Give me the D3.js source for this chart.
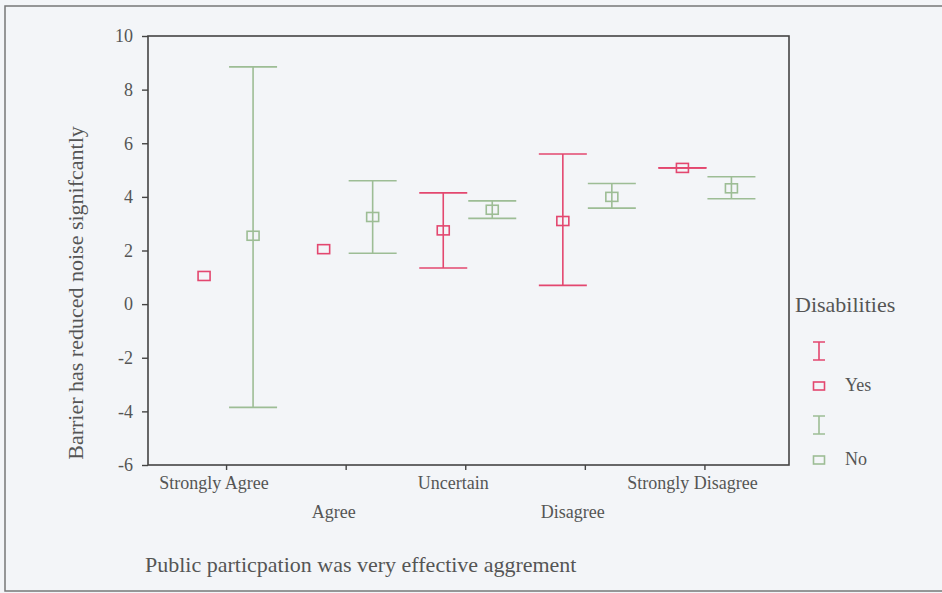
<!DOCTYPE html>
<html>
<head>
<meta charset="utf-8">
<script src="https://cdn.jsdelivr.net/npm/d3@7"></script>
<style>
  body { margin: 0; background: #f3f5f8; }
  svg { display: block; }
  text { font-family: "Liberation Serif", "DejaVu Serif", serif; fill: #555; }
</style>
</head>
<body>
<svg id="chart" width="942" height="593"></svg>
<script>
// categories on the x axis
var categories = ["Strongly Agree", "Agree", "Uncertain", "Disagree", "Strongly Disagree"];
var groups = ["Yes", "No"];
var yTicks = [-6, -4, -2, 0, 2, 4, 6, 8, 10];

// Disabilities = Yes (mean, lower, upper); null = no error bar
var yesMean = [1.05, 2.05, 2.75, 3.1, 5.08];
var yesLow  = [null, null, 1.35, 0.7, 5.08];
var yesHigh = [null, null, 4.15, 5.6, 5.08];

// Disabilities = No
var noMean = [2.55, 3.25, 3.52, 4.0, 4.32];
var noLow  = [-3.85, 1.9, 3.2, 3.58, 3.93];
var noHigh = [8.85, 4.6, 3.85, 4.5, 4.75];

var colors = { Yes: "#e3476f", No: "#9dbd95" };

var svg = d3.select("#chart");

// outer frame of the scanned figure
svg.append("rect")
  .attr("x", 5).attr("y", 6)
  .attr("width", 980).attr("height", 585)
  .attr("fill", "none")
  .attr("stroke", "#777")
  .attr("stroke-width", 1.5);

var pLeft = 148, pTop = 36, pRight = 789, pBottom = 465;

var y = d3.scaleLinear().domain([-6, 10]).range([pBottom, pTop]);
var x = d3.scalePoint().domain(categories).range([pLeft, pRight]).padding(0.68).align(0.48);
var xg = d3.scalePoint().domain(groups).range([-22, 27]);

var g = svg.append("g");

// plot box
g.append("rect")
  .attr("x", pLeft).attr("y", pTop)
  .attr("width", pRight - pLeft).attr("height", pBottom - pTop)
  .attr("fill", "none")
  .attr("stroke", "#444")
  .attr("stroke-width", 1.6);

// y axis (plain hyphen for negatives, like the original)
var yAxis = g.append("g")
  .attr("transform", "translate(" + pLeft + ",0)")
  .call(d3.axisLeft(y).tickValues(yTicks).tickSize(6).tickPadding(9)
    .tickFormat(function(d) { return String(d); }));
yAxis.select(".domain").remove();
yAxis.selectAll("line").attr("stroke", "#444").attr("stroke-width", 1.4);
yAxis.selectAll("text")
  .style("font-family", "Liberation Serif")
  .style("font-size", "18px")
  .attr("fill", "#555");

// x axis
var xAxis = g.append("g")
  .attr("transform", "translate(0," + pBottom + ")")
  .call(d3.axisBottom(x).tickSize(5).tickFormat(""));
xAxis.select(".domain").remove();
xAxis.selectAll("line").attr("stroke", "#444").attr("stroke-width", 1.4);

// staggered x tick labels
g.selectAll(".xlab")
  .data(categories)
  .enter().append("text")
  .attr("class", "xlab")
  .attr("x", function(d) { return x(d) - 12; })
  .attr("y", function(d, i) { return i % 2 === 0 ? pBottom + 24 : pBottom + 53; })
  .attr("text-anchor", "middle")
  .style("font-size", "18px")
  .text(function(d) { return d; });

// build rows from the arrays
var rows = [];
categories.forEach(function(c, i) {
  rows.push({ cat: c, grp: "Yes", mean: yesMean[i], lo: yesLow[i], hi: yesHigh[i] });
  rows.push({ cat: c, grp: "No", mean: noMean[i], lo: noLow[i], hi: noHigh[i] });
});

var capW = 48;
var bars = g.selectAll(".bar")
  .data(rows)
  .enter().append("g")
  .attr("class", "bar")
  .attr("transform", function(d) { return "translate(" + (x(d.cat) + xg(d.grp)) + ",0)"; });

var withBar = bars.filter(function(d) { return d.lo !== null; });
withBar.append("line")
  .attr("x1", 0).attr("x2", 0)
  .attr("y1", function(d) { return y(d.lo); })
  .attr("y2", function(d) { return y(d.hi); })
  .attr("stroke", function(d) { return colors[d.grp]; })
  .attr("stroke-width", 1.6);
withBar.append("line")
  .attr("x1", -capW / 2).attr("x2", capW / 2)
  .attr("y1", function(d) { return y(d.hi); })
  .attr("y2", function(d) { return y(d.hi); })
  .attr("stroke", function(d) { return colors[d.grp]; })
  .attr("stroke-width", 1.6);
withBar.append("line")
  .attr("x1", -capW / 2).attr("x2", capW / 2)
  .attr("y1", function(d) { return y(d.lo); })
  .attr("y2", function(d) { return y(d.lo); })
  .attr("stroke", function(d) { return colors[d.grp]; })
  .attr("stroke-width", 1.6);

bars.append("rect")
  .attr("x", -6).attr("width", 12)
  .attr("y", function(d) { return y(d.mean) - 4.5; })
  .attr("height", 9)
  .attr("fill", "none")
  .attr("stroke", function(d) { return colors[d.grp]; })
  .attr("stroke-width", 1.6);

// axis titles
svg.append("text")
  .attr("transform", "translate(83,293) rotate(-90)")
  .attr("text-anchor", "middle")
  .style("font-size", "22px")
  .text("Barrier has reduced noise signifcantly");

svg.append("text")
  .attr("x", 145).attr("y", 572)
  .style("font-size", "22px")
  .text("Public particpation was very effective aggrement");

// legend
var legend = svg.append("g").attr("transform", "translate(795,0)");
legend.append("text")
  .attr("x", 0).attr("y", 312)
  .style("font-size", "22px")
  .text("Disabilities");

var legendRows = legend.selectAll(".lg")
  .data(groups)
  .enter().append("g")
  .attr("class", "lg")
  .attr("transform", function(d, i) { return "translate(24," + (i * 74) + ")"; });

legendRows.append("path")
  .attr("d", "M-6,342H6M0,342V360M-6,360H6")
  .attr("fill", "none")
  .attr("stroke", function(d) { return colors[d]; })
  .attr("stroke-width", 1.6);
legendRows.append("rect")
  .attr("x", -5.5).attr("y", 382)
  .attr("width", 11).attr("height", 8)
  .attr("fill", "none")
  .attr("stroke", function(d) { return colors[d]; })
  .attr("stroke-width", 1.6);
legendRows.append("text")
  .attr("x", 26).attr("y", 391)
  .style("font-size", "18px")
  .text(function(d) { return d; });
</script>
</body>
</html>
